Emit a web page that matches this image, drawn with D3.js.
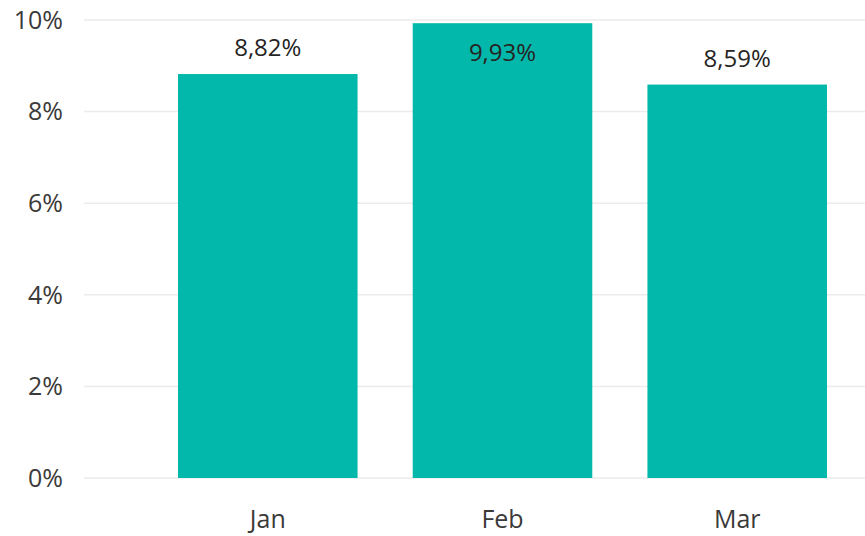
<!DOCTYPE html>
<html>
<head>
<meta charset="utf-8">
<script src="https://cdn.jsdelivr.net/npm/d3@7"></script>
<style>
  body { margin: 0; background: #fff; }
  text { font-family: "Segoe UI", "Open Sans", sans-serif; }
</style>
</head>
<body>
<div id="container"></div>
<script>
/* DATA */
const months = ["Jan", "Feb", "Mar"];
const rates = [8.82, 9.93, 8.59];          // percent
const yTicks = [0, 2, 4, 6, 8, 10];

/* CONSTANTS */
const width = 865, height = 536;
const margin = { top: 20, bottom: 58, left: 84, right: 0 };
const barColor = "#01B8AA";

// comma as decimal separator, like the source report
const locale = d3.formatLocale({ decimal: ",", thousands: ".", grouping: [3], currency: ["", "€"] });
const fmtLabel = locale.format(".2f");

const svg = d3.select("#container")
  .append("svg")
  .attr("width", width)
  .attr("height", height);

/* SCALES */
const yScale = d3.scaleLinear()
  .domain([0, 10])
  .range([height - margin.bottom, margin.top]);

const xScale = d3.scaleBand()
  .domain(months)
  .range([178, 827])
  .paddingInner(0.235)
  .paddingOuter(0);

/* GRIDLINES */
svg.append("g")
  .selectAll("line")
  .data(yTicks)
  .join("line")
  .attr("x1", margin.left)
  .attr("x2", width - margin.right)
  .attr("y1", d => yScale(d))
  .attr("y2", d => yScale(d))
  .attr("stroke", "#ebebeb")
  .attr("stroke-width", 1.5);

/* Y AXIS LABELS */
svg.append("g")
  .selectAll("text")
  .data(yTicks)
  .join("text")
  .attr("x", 63)
  .attr("y", d => yScale(d))
  .attr("dy", "0.35em")
  .attr("text-anchor", "end")
  .attr("font-size", 25)
  .attr("fill", "#3b3a39")
  .text(d => d + "%");

/* BARS */
const data = months.map((m, i) => ({ month: m, value: rates[i] }));

svg.append("g")
  .selectAll("rect")
  .data(data)
  .join("rect")
  .attr("x", d => xScale(d.month))
  .attr("width", xScale.bandwidth())
  .attr("y", d => yScale(d.value))
  .attr("height", d => yScale(0) - yScale(d.value))
  .attr("fill", barColor);

/* DATA LABELS - outside end, moved inside when there's no room */
svg.append("g")
  .selectAll("text")
  .data(data)
  .join("text")
  .attr("x", d => xScale(d.month) + xScale.bandwidth() / 2)
  .attr("y", d => {
    const top = yScale(d.value);
    return (top - 40 < 0) ? top + 38 : top - 18;
  })
  .attr("text-anchor", "middle")
  .attr("font-size", 24)
  .attr("fill", "#252423")
  .text(d => fmtLabel(d.value) + "%");

/* X AXIS LABELS */
svg.append("g")
  .selectAll("text")
  .data(months)
  .join("text")
  .attr("x", d => xScale(d) + xScale.bandwidth() / 2)
  .attr("y", 528)
  .attr("text-anchor", "middle")
  .attr("font-size", 25)
  .attr("fill", "#3b3a39")
  .text(d => d);
</script>
</body>
</html>
